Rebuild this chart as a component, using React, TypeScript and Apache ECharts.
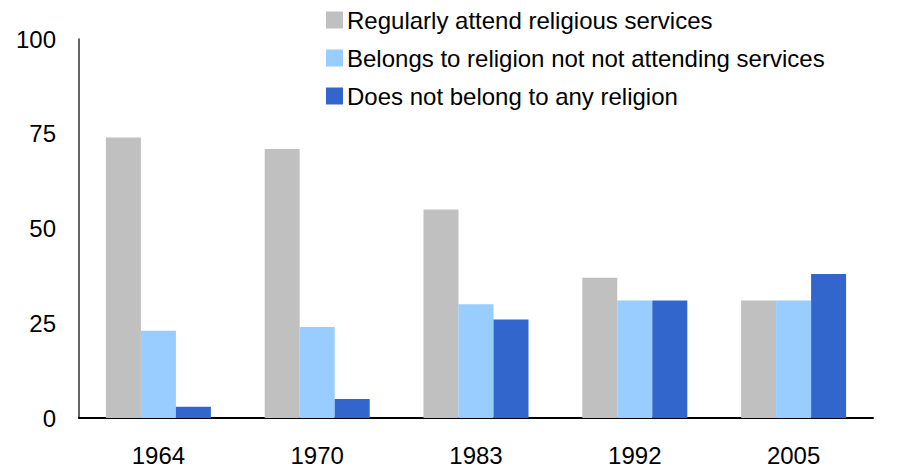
import React, { useEffect, useRef } from "react";
import * as echarts from "echarts";

const categories = ["1964", "1970", "1983", "1992", "2005"];
const regularlyAttend = [74, 71, 55, 37, 31];
const belongsNotAttending = [23, 24, 30, 31, 31];
const noReligion = [3, 5, 26, 31, 38];
const seriesNames = [
  "Regularly attend religious services",
  "Belongs to religion not not attending services",
  "Does not belong to any religion",
];
const colors = ["#c0c0c0", "#99ccff", "#3366cc"];

export default function App() {
  const ref = useRef<HTMLDivElement>(null);
  useEffect(() => {
    if (!ref.current) return;
    const chart = echarts.init(ref.current, undefined, { renderer: "svg" });
    const font = "Liberation Sans, Arial, sans-serif";
    const values = [regularlyAttend, belongsNotAttending, noReligion];
    chart.setOption({
      animation: false,
      color: colors,
      textStyle: { fontFamily: font },
      grid: { left: 79, right: 27, top: 39, bottom: 49, containLabel: false },
      legend: {
        orient: "vertical",
        left: 321,
        top: 3,
        itemWidth: 17,
        itemHeight: 17,
        itemGap: 14,
        icon: "rect",
        textStyle: { fontSize: 24, color: "#000", fontFamily: font, padding: [0, 0, 0, -1] },
        data: seriesNames,
      },
      xAxis: {
        type: "category",
        data: categories,
        axisLine: { lineStyle: { color: "#000", width: 2 } },
        axisTick: { show: false },
        axisLabel: { fontSize: 24, color: "#000", margin: 25, fontFamily: font },
      },
      yAxis: {
        type: "value",
        min: 0,
        max: 100,
        interval: 25,
        axisLine: { show: true, lineStyle: { color: "#333", width: 1.5 } },
        axisTick: { show: false },
        splitLine: { show: false },
        axisLabel: { fontSize: 24, color: "#000", margin: 23, fontFamily: font },
      },
      series: seriesNames.map((name, i) => ({
        name,
        type: "bar",
        data: values[i],
        barWidth: 35,
        barGap: "0%",
        itemStyle: { color: colors[i] },
      })),
    });
    return () => chart.dispose();
  }, []);
  return <div ref={ref} style={{ width: 900, height: 467, position: "absolute", left: 0, top: 0, background: "#fff" }} />;
}
